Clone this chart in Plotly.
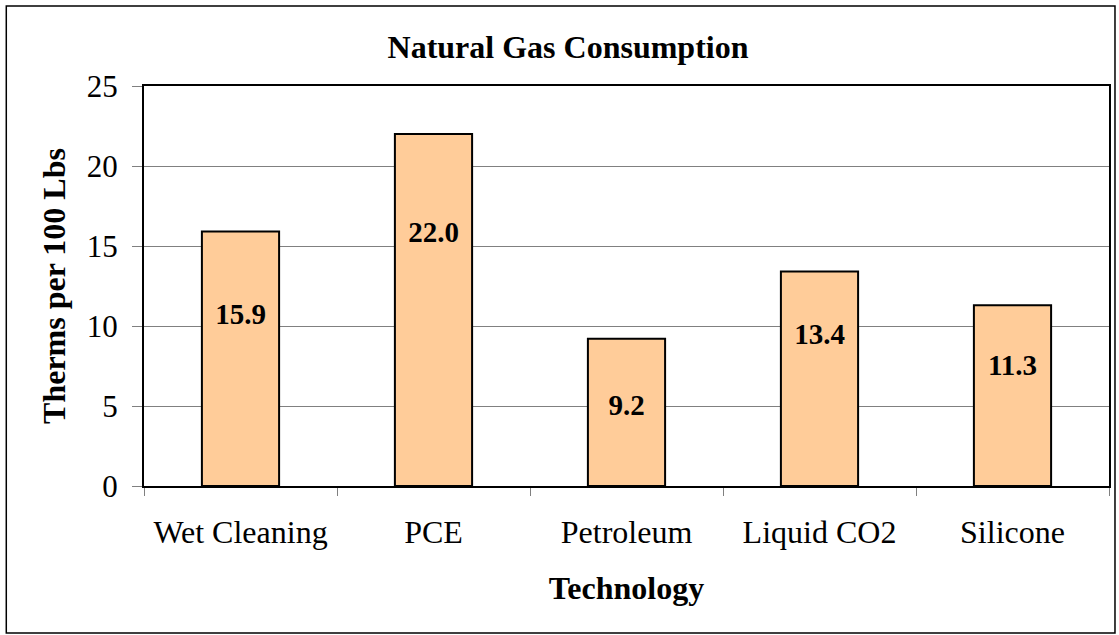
import plotly.graph_objects as go

# data
technologies = ["Wet Cleaning", "PCE", "Petroleum", "Liquid CO2", "Silicone"]
therms = [15.9, 22.0, 9.2, 13.4, 11.3]
label_y = [10.6, 15.7, 4.9, 9.3, 7.4]   # where each value label sits
y_ticks = [0, 5, 10, 15, 20, 25]

W, H = 1119, 635
L, R, T, B = 144, 8, 86, 149
pw, ph = W - L - R, H - T - B

FONT = "Liberation Serif, Times New Roman, serif"

fig = go.Figure()
fig.add_trace(go.Bar(
    x=technologies, y=therms,
    width=0.4,
    marker=dict(color="#FFCC99", line=dict(color="black", width=2)),
    hoverinfo="y",
))
fig.add_trace(go.Scatter(
    x=technologies, y=label_y,
    mode="text",
    text=[f"{v:.1f}" for v in therms],
    textposition="middle center",
    textfont=dict(family=FONT, size=29, color="black", weight="bold"),
    hoverinfo="skip",
))

fig.update_layout(
    width=W, height=H,
    margin=dict(l=L, r=R, t=T, b=B),
    paper_bgcolor="white", plot_bgcolor="white",
    font=dict(family=FONT, color="black"),
    showlegend=False,
    title=dict(text="<b>Natural Gas Consumption</b>", x=568 / W, xanchor="center",
               y=1 - 47 / H, yanchor="middle", font=dict(size=32)),
    xaxis=dict(
        showline=True, linecolor="black", linewidth=2, mirror=True,
        ticks="outside", tickson="boundaries", ticklen=8, tickcolor="#808080",
        tickfont=dict(size=32), ticklabelstandoff=17,
        title=dict(text="<b>Technology</b>", font=dict(size=32), standoff=27),
    ),
    yaxis=dict(
        range=[0, 25], tickvals=y_ticks,
        showline=True, linecolor="black", linewidth=2, mirror=True,
        showgrid=True, gridcolor="#808080", gridwidth=1,
        ticks="outside", ticklen=10, tickcolor="#808080",
        tickfont=dict(size=31), ticklabelstandoff=8,
        title=dict(text="<b>Therms per 100 Lbs</b>", font=dict(size=32), standoff=12),
        zeroline=False,
    ),
    shapes=[dict(
        type="rect", xref="paper", yref="paper",
        x0=(6 - L) / pw, x1=(1117 - L) / pw,
        y0=(H - B - 633) / ph, y1=(H - B - 6) / ph,
        line=dict(color="black", width=1.5), fillcolor="rgba(0,0,0,0)", layer="below",
    )],
)

# the page body has an 8px default margin; drop it so the figure sits at 0,0
fig.write_html("out.html", config={"displayModeBar": False},
               post_script="document.body.style.margin='0';")
